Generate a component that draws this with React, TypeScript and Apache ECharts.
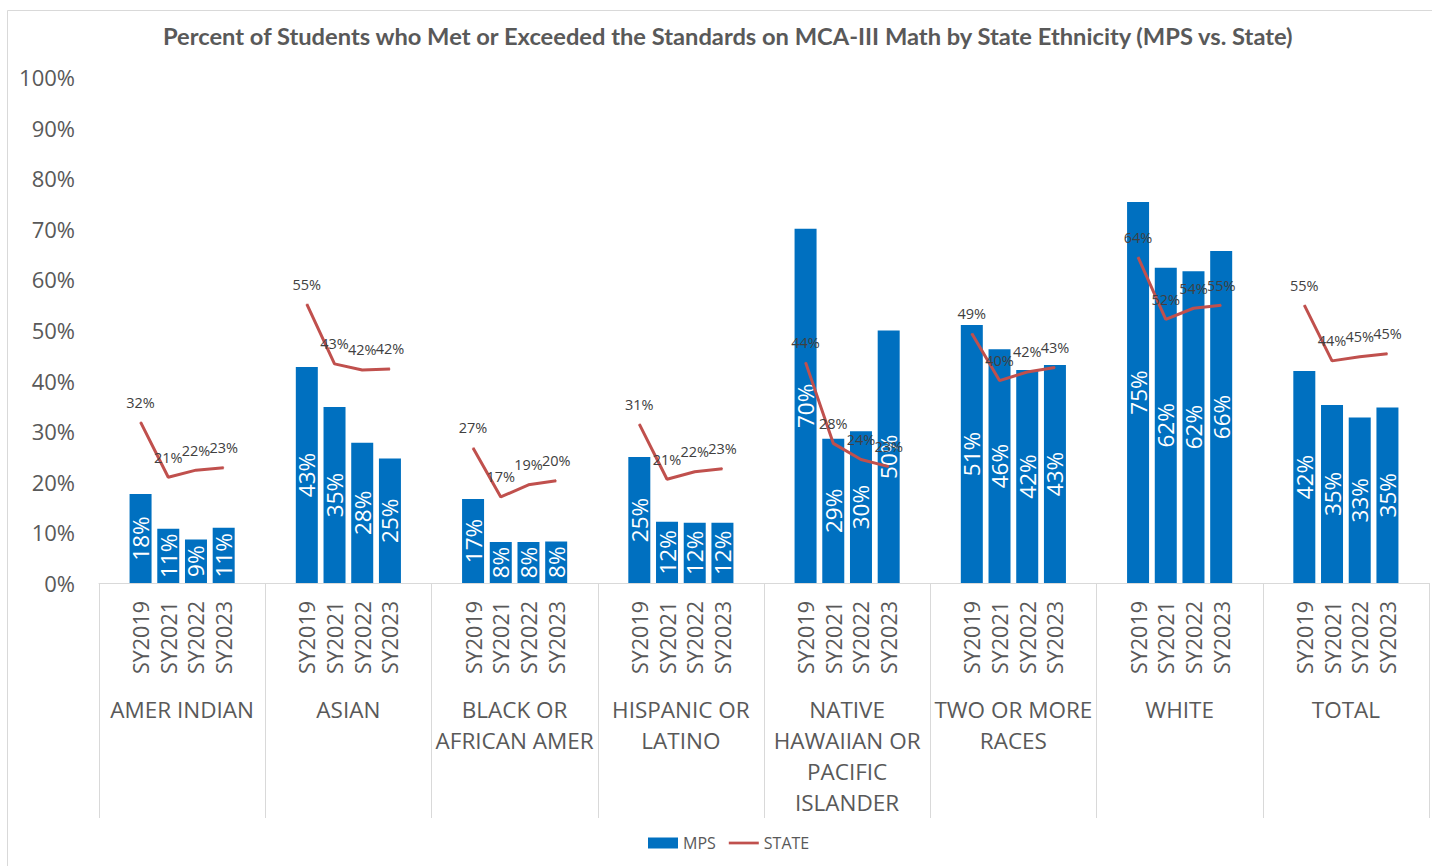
import React, { useEffect, useRef } from "react";
import * as echarts from "echarts";

const groups = [
  "AMER INDIAN",
  "ASIAN",
  "BLACK OR\nAFRICAN AMER",
  "HISPANIC OR\nLATINO",
  "NATIVE\nHAWAIIAN OR\nPACIFIC\nISLANDER",
  "TWO OR MORE\nRACES",
  "WHITE",
  "TOTAL",
];
const years = ["SY2019", "SY2021", "SY2022", "SY2023"];

const mpsValues = [
  [17.6, 10.7, 8.6, 10.9],
  [42.7, 34.8, 27.7, 24.6],
  [16.6, 8.1, 8.1, 8.2],
  [24.9, 12.1, 11.9, 11.9],
  [70.0, 28.5, 30.0, 49.9],
  [51.0, 46.2, 42.1, 43.1],
  [75.3, 62.3, 61.6, 65.6],
  [41.9, 35.2, 32.7, 34.7],
];
const stateValues = [
  [31.8, 20.9, 22.3, 22.8],
  [55.1, 43.3, 42.1, 42.3],
  [26.7, 17.0, 19.4, 20.2],
  [31.4, 20.5, 22.0, 22.6],
  [43.6, 27.6, 24.4, 23.0],
  [49.3, 40.0, 41.7, 42.6],
  [64.4, 52.1, 54.3, 54.9],
  [54.9, 43.9, 44.7, 45.3],
];

const titleText =
  "Percent of Students who Met or Exceeded the Standards on MCA-III Math by State Ethnicity (MPS vs. State)";

const FONT = "'Open Sans', 'Noto Sans', sans-serif";

// each group: blank slot, 4 years, blank slot
const categories: string[] = [];
const mpsData: (number | null)[] = [];
const stateData: (number | null)[] = [];
groups.forEach((_, gi) => {
  categories.push("");
  mpsData.push(null);
  stateData.push(null);
  years.forEach((y, yi) => {
    categories.push(y);
    mpsData.push(mpsValues[gi][yi]);
    stateData.push(stateValues[gi][yi]);
  });
  categories.push("");
  mpsData.push(null);
  stateData.push(null);
});

const pct = (p: any) => {
  const v = Array.isArray(p.value) ? p.value[1] : p.value;
  return v == null || v === "" ? "" : Math.round(v) + "%";
};

export default function App() {
  const ref = useRef<HTMLDivElement>(null);
  useEffect(() => {
    if (!ref.current) return;
    const chart = echarts.init(ref.current, null, { renderer: "svg" });
    chart.setOption({
      animation: false,
      backgroundColor: "#ffffff",
      title: {
        text: titleText,
        left: 158,
        top: 19,
        textStyle: {
          fontFamily: "Lato, 'Open Sans', sans-serif",
          fontWeight: "bold",
          fontSize: 23.7,
          color: "#595959",
        },
      },
      graphic: [
        {
          type: "rect",
          shape: { x: 7.5, y: 10.5, width: 1440, height: 900 },
          style: { fill: "none", stroke: "#d9d9d9", lineWidth: 1 },
          silent: true,
          z: -10,
        },
      ],
      legend: {
        left: 643,
        top: 830,
        itemWidth: 30,
        itemHeight: 11,
        itemGap: 13,
        textStyle: { fontFamily: FONT, fontSize: 16, color: "#595959" },
        data: [
          { name: "MPS", icon: "rect" },
          { name: "STATE", icon: "path://M0,0L33,0L33,3L0,3Z" },
        ],
      },
      grid: { left: 99, right: 3, top: 77, bottom: 283, containLabel: false },
      xAxis: [
        {
          type: "category",
          data: categories,
          position: "bottom",
          axisLine: { show: true, lineStyle: { color: "#d9d9d9", width: 1 } },
          axisTick: { show: false },
          axisLabel: {
            interval: 0,
            rotate: 90,
            margin: 18,
            fontFamily: FONT,
            fontSize: 21.5,
            color: "#595959",
          },
        },
        {
          type: "category",
          data: groups,
          position: "bottom",
          offset: 0,
          axisLine: { show: false },
          axisTick: {
            show: true,
            interval: 0,
            length: 235,
            lineStyle: { color: "#d9d9d9", width: 1 },
          },
          axisLabel: {
            interval: 0,
            margin: 111,
            fontFamily: FONT,
            fontSize: 22.5,
            lineHeight: 31,
            color: "#595959",
          },
        },
      ],
      yAxis: {
        type: "value",
        min: 0,
        max: 100,
        interval: 10,
        axisLine: { show: false },
        axisTick: { show: false },
        splitLine: { show: false },
        axisLabel: {
          formatter: "{value}%",
          margin: 24,
          fontFamily: FONT,
          fontSize: 22,
          color: "#595959",
        },
      },
      series: [
        {
          name: "MPS",
          type: "bar",
          xAxisIndex: 0,
          data: mpsData,
          barWidth: 22,
          itemStyle: { color: "#0070c0" },
          label: {
            show: true,
            position: "inside",
            rotate: 90,
            formatter: pct,
            fontFamily: FONT,
            fontSize: 22.5,
            color: "#ffffff",
          },
        },
        {
          name: "STATE",
          type: "line",
          xAxisIndex: 0,
          data: stateData,
          connectNulls: false,
          symbol: "circle",
          symbolSize: 1,
          showSymbol: true,
          color: "#c0504d",
          itemStyle: { color: "#c0504d" },
          lineStyle: { color: "#c0504d", width: 3 },
          label: {
            show: true,
            position: "top",
            distance: 12,
            formatter: pct,
            fontFamily: FONT,
            fontSize: 14.5,
            color: "#404040",
          },
        },
      ],
    });
    return () => chart.dispose();
  }, []);
  return (
    <div
      ref={ref}
      style={{ position: "absolute", left: 0, top: 0, width: 1432, height: 866 }}
    />
  );
}
